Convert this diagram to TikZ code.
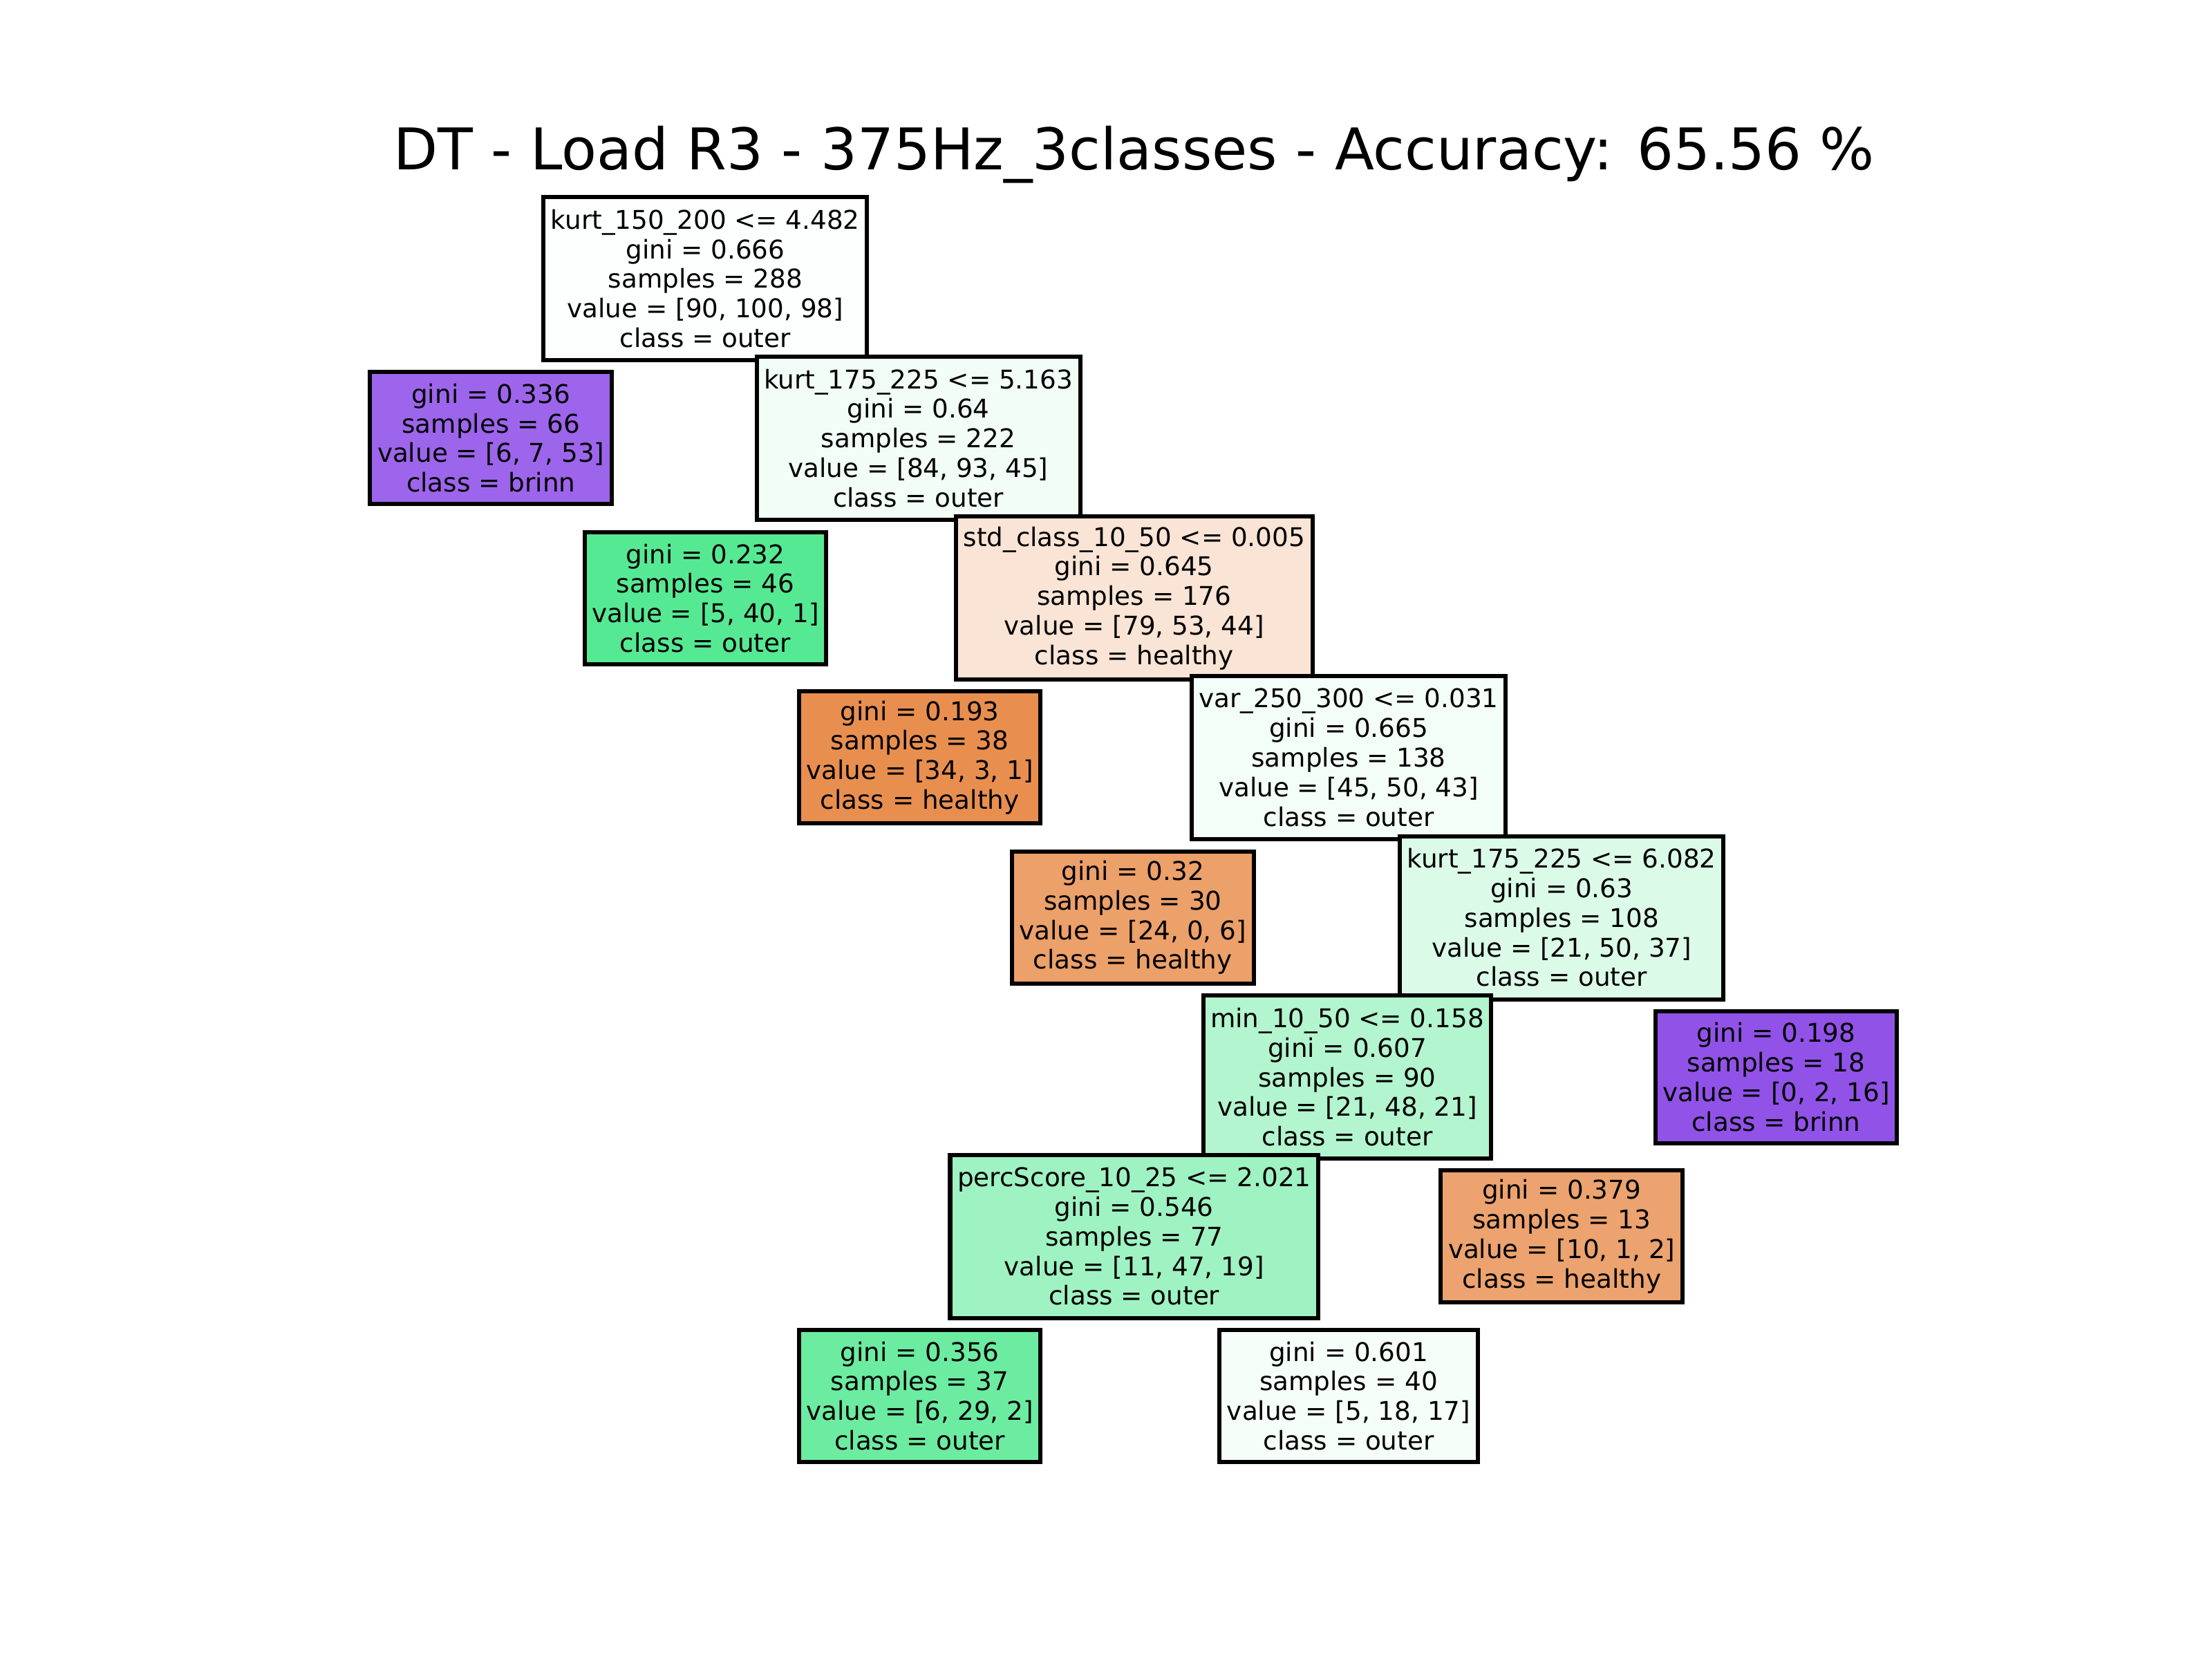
\documentclass[tikz,border=0pt]{standalone}
\usepackage{fontspec}
\setmainfont{DejaVu Sans}
\definecolor{rootfill}{HTML}{FDFFFE}
\definecolor{brinnA}{HTML}{9D65EB}
\definecolor{outerA}{HTML}{F2FDF7}
\definecolor{outerB}{HTML}{56E993}
\definecolor{healthyA}{HTML}{F9E4D5}
\definecolor{healthyB}{HTML}{E88F50}
\definecolor{outerC}{HTML}{F4FEF8}
\definecolor{healthyC}{HTML}{ECA06A}
\definecolor{outerD}{HTML}{DBFAE8}
\definecolor{outerE}{HTML}{B2F5CE}
\definecolor{brinnB}{HTML}{9152E8}
\definecolor{outerF}{HTML}{9FF2C2}
\definecolor{healthyD}{HTML}{ECA36F}
\definecolor{outerG}{HTML}{6CECA1}
\definecolor{outerH}{HTML}{F6FEF9}
\tikzset{
  box/.style = {draw, line width = 2.1pt, align = center, inner xsep = 0.13cm,
                inner ysep = 0.05cm, font = \fontsize{13}{14.9}\selectfont},
  leaf/.style = {box, minimum height = 2.34cm},
  split/.style = {box, minimum height = 2.89cm}
}
\begin{document}
\begin{tikzpicture}[x = 0.025cm, y = -0.025cm]
\useasboundingbox (0,0) rectangle (1568,1176);

\node[font = \fontsize{29}{34}\selectfont, anchor = base] (title) at (804,120.5) {DT - Load R3 - 375Hz\_3classes - Accuracy: 65.56 \%};

\node[split, fill = rootfill] (n0) at (500,197.5) {kurt\_150\_200 <= 4.482\\gini = 0.666\\samples = 288\\value = [90, 100, 98]\\class = outer};
\node[leaf, fill = brinnA] (n1) at (348,310.5) {gini = 0.336\\samples = 66\\value = [6, 7, 53]\\class = brinn};
\node[split, fill = outerA] (n2) at (651,310.5) {kurt\_175\_225 <= 5.163\\gini = 0.64\\samples = 222\\value = [84, 93, 45]\\class = outer};
\node[leaf, fill = outerB] (n3) at (500,424) {gini = 0.232\\samples = 46\\value = [5, 40, 1]\\class = outer};
\node[split, fill = healthyA] (n4) at (804,424) {std\_class\_10\_50 <= 0.005\\gini = 0.645\\samples = 176\\value = [79, 53, 44]\\class = healthy};
\node[leaf, fill = healthyB] (n5) at (652,537) {gini = 0.193\\samples = 38\\value = [34, 3, 1]\\class = healthy};
\node[split, fill = outerC] (n6) at (956,537) {var\_250\_300 <= 0.031\\gini = 0.665\\samples = 138\\value = [45, 50, 43]\\class = outer};
\node[leaf, fill = healthyC] (n7) at (803,650.5) {gini = 0.32\\samples = 30\\value = [24, 0, 6]\\class = healthy};
\node[split, fill = outerD] (n8) at (1107,650.5) {kurt\_175\_225 <= 6.082\\gini = 0.63\\samples = 108\\value = [21, 50, 37]\\class = outer};
\node[split, fill = outerE] (n9) at (955,763.5) {min\_10\_50 <= 0.158\\gini = 0.607\\samples = 90\\value = [21, 48, 21]\\class = outer};
\node[leaf, fill = brinnB] (n10) at (1259,763.5) {gini = 0.198\\samples = 18\\value = [0, 2, 16]\\class = brinn};
\node[split, fill = outerF] (n11) at (804,876.5) {percScore\_10\_25 <= 2.021\\gini = 0.546\\samples = 77\\value = [11, 47, 19]\\class = outer};
\node[leaf, fill = healthyD] (n12) at (1107,876.5) {gini = 0.379\\samples = 13\\value = [10, 1, 2]\\class = healthy};
\node[leaf, fill = outerG] (n13) at (652,989.5) {gini = 0.356\\samples = 37\\value = [6, 29, 2]\\class = outer};
\node[leaf, fill = outerH] (n14) at (956,989.5) {gini = 0.601\\samples = 40\\value = [5, 18, 17]\\class = outer};

\end{tikzpicture}
\end{document}
